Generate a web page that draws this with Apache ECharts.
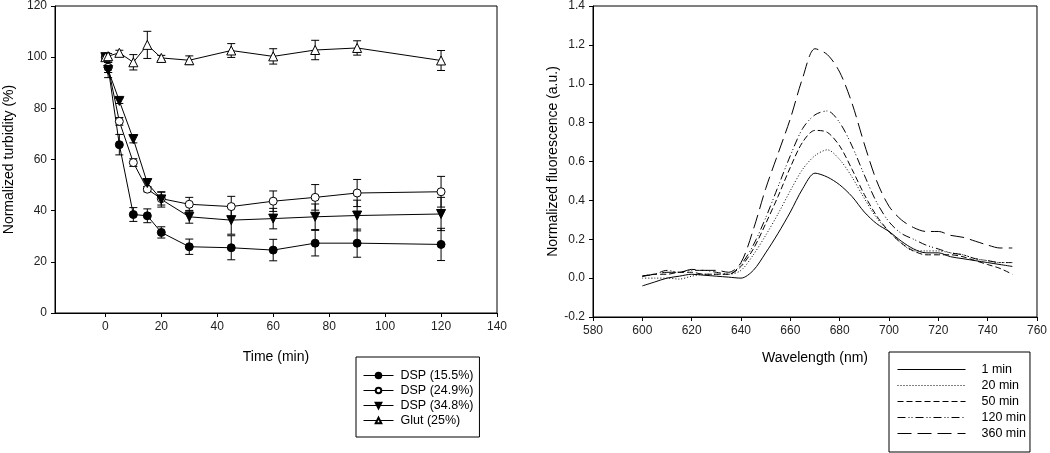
<!DOCTYPE html>
<html>
<head>
<meta charset="utf-8">
<script src="https://cdn.jsdelivr.net/npm/echarts@6/dist/echarts.min.js"></script>
<style>
html, body { margin: 0; padding: 0; background: #fff; }
#main { width: 1050px; height: 453px; }
</style>
</head>
<body>
<div id="main"></div>
<script>
// turbidity over time
var times = [0, 1, 5, 10, 15, 20, 30, 45, 60, 75, 90, 120];
var dsp155 = [100, 96, 65.8, 38.5, 38, 31.5, 25.9, 25.5, 24.6, 27.3, 27.3, 26.8];
var dsp155Err = [0, 2, 4, 2.7, 2.7, 2.2, 3, 4.7, 4.2, 5, 5.5, 6.3];
var dsp249 = [100, 96, 74.9, 58.8, 48.4, 44.7, 42.5, 41.6, 43.7, 45.2, 46.9, 47.4];
var dsp249Err = [0, 2, 1.5, 1.5, 1, 2.5, 2.7, 4, 4, 5, 5.3, 6];
var dsp348 = [100, 95, 82.9, 68, 50.8, 44.4, 37.6, 36.3, 36.9, 37.6, 38.1, 38.7];
var dsp348Err = [0, 3, 1, 1.5, 1.5, 3, 2.5, 5.5, 4, 5, 6, 6.5];
var glut = [100, 100.4, 101.7, 98, 104.8, 99.7, 98.8, 102.6, 100.3, 102.8, 103.6, 98.7];
var glutErr = [0, 1, 1, 3, 5.3, 1, 1.7, 2.7, 3, 3.8, 2.8, 3.9];
var timeTicks = [0, 20, 40, 60, 80, 100, 120, 140];

// fluorescence spectra
var wavelengths = [600, 605, 610, 615, 620, 625, 630, 635, 640, 645, 650, 655, 660, 665, 670, 675,
  680, 685, 690, 695, 700, 705, 710, 715, 720, 725, 730, 735, 740, 745, 750];
var f1 = [-0.04, -0.02, 0.0, 0.01, 0.02, 0.015, 0.01, 0.005, 0.0, 0.04, 0.13, 0.23, 0.34, 0.46, 0.54, 0.52,
  0.48, 0.42, 0.34, 0.28, 0.24, 0.19, 0.15, 0.13, 0.13, 0.11, 0.10, 0.09, 0.08, 0.07, 0.06];
var f20 = [0.0, 0.0, 0.0, -0.005, 0.01, 0.02, 0.02, 0.02, 0.04, 0.12, 0.22, 0.33, 0.45, 0.56, 0.63, 0.66,
  0.61, 0.52, 0.41, 0.31, 0.24, 0.18, 0.14, 0.14, 0.14, 0.13, 0.12, 0.10, 0.09, 0.08, 0.08];
var f50 = [0.01, 0.02, 0.02, 0.03, 0.03, 0.02, 0.02, 0.02, 0.06, 0.15, 0.28, 0.42, 0.57, 0.70, 0.76, 0.75,
  0.68, 0.56, 0.43, 0.32, 0.24, 0.18, 0.14, 0.12, 0.12, 0.12, 0.11, 0.09, 0.07, 0.05, 0.02];
var f120 = [0.01, 0.02, 0.04, 0.03, 0.04, 0.04, 0.03, 0.02, 0.07, 0.17, 0.31, 0.47, 0.63, 0.77, 0.84, 0.86,
  0.80, 0.68, 0.53, 0.39, 0.29, 0.23, 0.20, 0.17, 0.15, 0.13, 0.12, 0.10, 0.09, 0.08, 0.08];
var f360 = [0.01, 0.02, 0.03, 0.03, 0.045, 0.04, 0.04, 0.03, 0.08, 0.25, 0.46, 0.64, 0.82, 1.03, 1.18, 1.15,
  1.06, 0.90, 0.69, 0.50, 0.37, 0.30, 0.26, 0.24, 0.24, 0.22, 0.21, 0.19, 0.17, 0.155, 0.155];

var font = 'Liberation Sans, Arial, sans-serif';

function pairs(xs, ys) {
  return xs.map(function (x, i) { return [x, ys[i]]; });
}
function errData(ys, errs) {
  return times.map(function (t, i) { return [t, ys[i] - errs[i], ys[i] + errs[i]]; });
}
function errSeries(ys, errs) {
  return {
    type: 'custom',
    xAxisIndex: 0, yAxisIndex: 0,
    silent: true,
    z: 1,
    data: errData(ys, errs),
    renderItem: function (params, api) {
      if (api.value(2) - api.value(1) <= 0) return null;
      var lo = api.coord([api.value(0), api.value(1)]);
      var hi = api.coord([api.value(0), api.value(2)]);
      var w = 4;
      var st = { stroke: '#000', lineWidth: 1 };
      return {
        type: 'group',
        children: [
          { type: 'line', shape: { x1: lo[0], y1: lo[1], x2: hi[0], y2: hi[1] }, style: st },
          { type: 'line', shape: { x1: lo[0] - w, y1: lo[1], x2: lo[0] + w, y2: lo[1] }, style: st },
          { type: 'line', shape: { x1: hi[0] - w, y1: hi[1], x2: hi[0] + w, y2: hi[1] }, style: st }
        ]
      };
    }
  };
}
function markerSeries(name, ys, symbol, fill, rotate, size) {
  return {
    name: name,
    type: 'line',
    xAxisIndex: 0, yAxisIndex: 0,
    data: pairs(times, ys),
    symbol: symbol,
    symbolSize: size,
    symbolRotate: rotate,
    z: 3,
    lineStyle: { color: '#000', width: 1 },
    itemStyle: { color: fill, borderColor: '#000', borderWidth: 1 }
  };
}
function specSeries(name, ys, dash) {
  return {
    name: name,
    type: 'line',
    xAxisIndex: 1, yAxisIndex: 1,
    data: pairs(wavelengths, ys),
    smooth: 0.3,
    showSymbol: false,
    symbol: 'none',
    lineStyle: { color: '#000', width: 1, type: dash },
    itemStyle: { color: '#000' }
  };
}

var axisLine = { onZero: false, lineStyle: { color: '#000', width: 1 } };
var axisTick = { inside: false, length: 4, lineStyle: { color: '#000' } };
var labelStyle = { color: '#222', fontSize: 12, fontFamily: font };
var nameStyle = { color: '#000', fontSize: 14, fontFamily: font };

var chart = echarts.init(document.getElementById('main'));
chart.setOption({
  animation: false,
  backgroundColor: '#fff',
  grid: [
    { left: 55, right: 553, top: 5, bottom: 140, show: true, borderColor: '#000', borderWidth: 1 },
    { left: 593, right: 11, top: 5, bottom: 136, show: true, borderColor: '#000', borderWidth: 1 }
  ],
  xAxis: [
    {
      type: 'value', gridIndex: 0, min: -18, max: 140,
      name: 'Time (min)', nameLocation: 'middle', nameGap: 37, nameTextStyle: nameStyle,
      axisLine: axisLine, splitLine: { show: false },
      axisTick: { length: 4, lineStyle: { color: '#000' }, customValues: timeTicks },
      axisLabel: Object.assign({ margin: 8, customValues: timeTicks }, labelStyle)
    },
    {
      type: 'value', gridIndex: 1, min: 580, max: 760, interval: 20,
      name: 'Wavelength (nm)', nameLocation: 'middle', nameGap: 34, nameTextStyle: nameStyle,
      axisLine: axisLine, axisTick: axisTick, splitLine: { show: false },
      axisLabel: Object.assign({ margin: 8 }, labelStyle)
    }
  ],
  yAxis: [
    {
      type: 'value', gridIndex: 0, min: 0, max: 120, interval: 20,
      name: 'Normalized turbidity (%)', nameLocation: 'middle', nameGap: 39, nameTextStyle: nameStyle,
      axisLine: axisLine, axisTick: axisTick, splitLine: { show: false },
      axisLabel: Object.assign({ margin: 8 }, labelStyle)
    },
    {
      type: 'value', gridIndex: 1, min: -0.2, max: 1.4, interval: 0.2,
      name: 'Normalized fluorescence (a.u.)', nameLocation: 'middle', nameGap: 30, nameTextStyle: nameStyle,
      axisLine: axisLine, axisTick: axisTick, splitLine: { show: false },
      axisLabel: Object.assign({ margin: 8, formatter: function (v) { return v.toFixed(1); } }, labelStyle)
    }
  ],
  legend: [
    {
      data: ['DSP (15.5%)', 'DSP (24.9%)', 'DSP (34.8%)', 'Glut (25%)'],
      orient: 'vertical', left: 356, top: 357,
      itemWidth: 30, itemHeight: 7, itemGap: 2,
      padding: [12, 6, 10, 7],
      borderColor: '#000', borderWidth: 1, borderRadius: 0,
      lineStyle: { width: 1 },
      textStyle: { color: '#000', fontSize: 12.5, lineHeight: 13, fontFamily: font, padding: [0, 0, 0, 2] }
    },
    {
      data: ['1 min', '20 min', '50 min', '120 min', '360 min'],
      orient: 'vertical', left: 889, top: 352,
      itemWidth: 68, itemHeight: 8, itemGap: 3,
      padding: [11, 4, 12, 8],
      borderColor: '#000', borderWidth: 1, borderRadius: 0,
      itemStyle: { opacity: 0 },
      lineStyle: { width: 1 },
      textStyle: { color: '#000', fontSize: 12.5, lineHeight: 13, fontFamily: font, padding: [0, 0, 0, 11] }
    }
  ],
  series: [
    errSeries(dsp155, dsp155Err),
    errSeries(dsp249, dsp249Err),
    errSeries(dsp348, dsp348Err),
    errSeries(glut, glutErr),
    markerSeries('DSP (15.5%)', dsp155, 'circle', '#000', 0, 8),
    markerSeries('DSP (24.9%)', dsp249, 'circle', '#fff', 0, 8),
    markerSeries('DSP (34.8%)', dsp348, 'triangle', '#000', 180, 9),
    markerSeries('Glut (25%)', glut, 'triangle', '#fff', 0, 9),
    specSeries('1 min', f1, 'solid'),
    specSeries('20 min', f20, [1, 2]),
    specSeries('50 min', f50, [6, 3]),
    specSeries('120 min', f120, [8, 3, 1, 2, 1, 3]),
    specSeries('360 min', f360, [14, 6])
  ]
});
</script>
</body>
</html>
